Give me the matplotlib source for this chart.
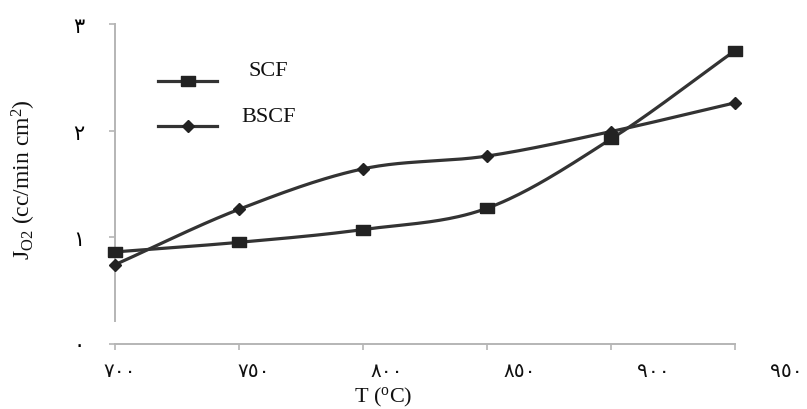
import numpy as np
import matplotlib
matplotlib.use("Agg")
import matplotlib.pyplot as plt
from matplotlib.transforms import blended_transform_factory

# data
temps = [700, 750, 800, 850, 900, 950]
scf = [0.86, 0.95, 1.07, 1.27, 1.92, 2.75]
bscf = [0.74, 1.26, 1.64, 1.76, 1.99, 2.26]

x_labels = ['٧٠٠', '٧٥٠', '٨٠٠', '٨٥٠', '٩٠٠', '٩٥٠']
y_ticks = [0, 1, 2, 3]
y_labels = ['٠', '١', '٢', '٣']

plt.rcParams['font.family'] = ['Liberation Serif', 'DejaVu Sans']
plt.rcParams['mathtext.default'] = 'regular'

line_c = '#333333'
mark_c = '#222222'
axis_c = '#b5b5b5'


def smooth(x, y, n=40):
    """Catmull-Rom curve through the points, like Excel's smoothed line."""
    x = np.asarray(x, float)
    y = np.asarray(y, float)
    px = np.concatenate([[2 * x[0] - x[1]], x, [2 * x[-1] - x[-2]]])
    py = np.concatenate([[2 * y[0] - y[1]], y, [2 * y[-1] - y[-2]]])
    xs, ys = [], []
    t = np.linspace(0, 1, n)
    for i in range(1, len(px) - 2):
        for p, out in ((px, xs), (py, ys)):
            p0, p1, p2, p3 = p[i - 1], p[i], p[i + 1], p[i + 2]
            m1 = (p2 - p0) / 2
            m2 = (p3 - p1) / 2
            h00 = 2 * t**3 - 3 * t**2 + 1
            h10 = t**3 - 2 * t**2 + t
            h01 = -2 * t**3 + 3 * t**2
            h11 = t**3 - t**2
            out.extend(h00 * p1 + h10 * m1 + h01 * p2 + h11 * m2)
    return np.array(xs), np.array(ys)


rect = [(-1.3, -1), (1.3, -1), (1.3, 1), (-1.3, 1), (-1.3, -1)]

fig = plt.figure(figsize=(8.07, 4.10), dpi=100)
ax = fig.add_axes([115 / 807, 1 - 344.5 / 410, 620 / 807, 319.5 / 410])

for vals, mk, ms in ((scf, rect, 10), (bscf, 'D', 6)):
    sx, sy = smooth(temps, vals)
    ax.plot(sx, sy, color=line_c, lw=2.3, solid_capstyle='round', clip_on=False, zorder=3)
    ax.plot(temps, vals, ls='none', marker=mk, ms=ms, color=mark_c, clip_on=False, zorder=4)

ax.set_xlim(700, 950)
ax.set_ylim(0, 3)

for s in ('top', 'right'):
    ax.spines[s].set_visible(False)
for s in ('left', 'bottom'):
    ax.spines[s].set_color(axis_c)
    ax.spines[s].set_linewidth(1.4)
ax.spines['left'].set_bounds(0.21, 3)

ax.set_xticks(temps)
ax.set_xticklabels([''] * len(temps))
ax.set_yticks(y_ticks)
ax.set_yticklabels(y_labels, fontsize=15, family=['DejaVu Sans'])
ax.tick_params(axis='both', direction='out', length=4, width=1.2, color=axis_c)
ax.tick_params(axis='y', pad=18)

# x tick labels sit slightly stretched relative to the ticks in the reference
tr = blended_transform_factory(ax.transData, ax.transAxes)
for v, lab in zip(temps, x_labels):
    ax.text(702 + (v - 700) * 1.075, -0.055, lab, transform=tr, ha='center', va='top',
            fontsize=14.5, family=['DejaVu Sans'], color='#111111')

ax.set_xlabel('T ($^{o}$C)', fontsize=16, color='#111111')
ax.xaxis.set_label_coords(0.432, -0.13)
ax.set_ylabel('J$_{O2}$ (cc/min cm$^{2}$)', fontsize=17, color='#111111')
ax.yaxis.set_label_coords(-0.124, 0.515)

# legend drawn by hand: centred labels above the sample lines
entries = [('SCF', rect, 10, 0.822), ('BSCF', 'D', 6, 0.681)]
for name, mk, ms, yy in entries:
    ax.plot([0.069, 0.117, 0.165], [yy, yy, yy], transform=ax.transAxes, color=line_c,
            lw=2.3, marker=mk, ms=ms, mfc=mark_c, mec=mark_c, markevery=[1], clip_on=False)
    ax.text(0.247, yy + 0.031, name, transform=ax.transAxes, ha='center', va='center',
            fontsize=16, color='#111111')

fig.savefig('out.png', dpi=100)
